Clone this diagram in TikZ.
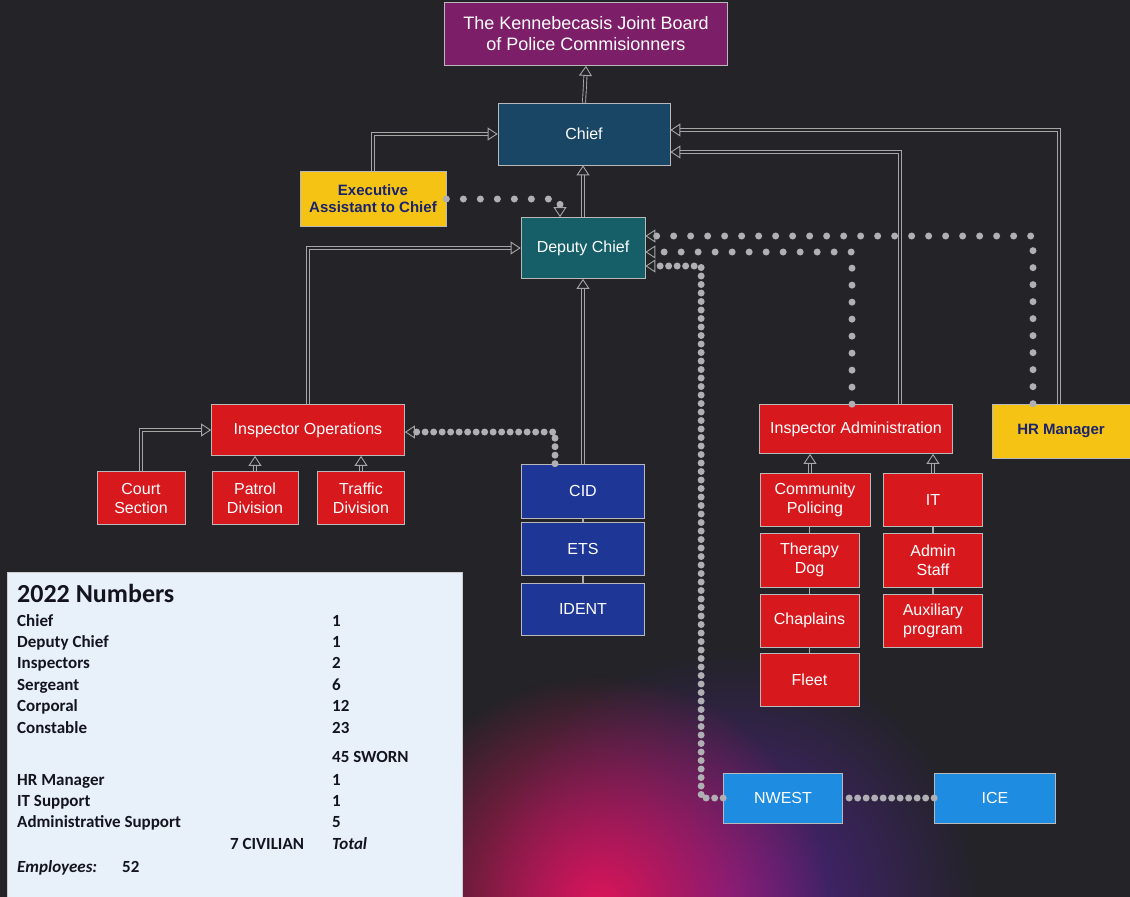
\documentclass[tikz,border=0pt]{standalone}
\usepackage{fontspec}
\setmainfont{Liberation Sans}
\newfontfamily\tblfont{Carlito}
\usetikzlibrary{positioning, arrows.meta, calc, fadings}

\definecolor{bgc}{RGB}{35,35,40}
\definecolor{boardc}{RGB}{125,30,105}
\definecolor{chiefc}{RGB}{25,70,100}
\definecolor{deputyc}{RGB}{22,95,105}
\definecolor{redc}{RGB}{215,25,30}
\definecolor{navyc}{RGB}{30,55,150}
\definecolor{skyc}{RGB}{30,140,225}
\definecolor{yellowc}{RGB}{245,195,20}
\definecolor{inkc}{RGB}{25,35,110}
\definecolor{tblc}{RGB}{232,240,250}
\definecolor{tblink}{RGB}{20,20,30}
\definecolor{dotc}{RGB}{175,175,180}
\definecolor{glowp}{RGB}{80,35,140}
\definecolor{glowm}{RGB}{220,20,90}
\tikzfading[name=glowfade, inner color=transparent!0, outer color=transparent!100]

\tikzset{
  Unit/.style={draw=gray!55, line width=0.7pt, text=white, align=center,
    font=\fontsize{16}{19}\selectfont, inner sep=1pt},
  RedUnit/.style={Unit, fill=redc},
  BlueUnit/.style={Unit, fill=navyc},
  SkyUnit/.style={Unit, fill=skyc},
  GoldUnit/.style={Unit, fill=yellowc, text=inkc, font=\fontsize{15}{17}\selectfont\bfseries},
  Link/.style={draw=gray!70, double=bgc, double distance=2.2pt, line width=0.9pt,
    -{Triangle[open, length=10pt, width=13pt, line width=0.9pt]}},
  Tie/.style={draw=gray!65, line width=1.5pt},
  Dots/.style={draw=dotc, line width=7pt, line cap=round, dash pattern=on 0pt off 17pt,
    -{Triangle[open, length=10pt, width=13pt, line width=0.9pt, color=gray!70]}},
  DenseDots/.style={Dots, dash pattern=on 0pt off 8.5pt},
  Cell/.style={anchor=base west, inner sep=0pt, text=tblink,
    font=\tblfont\fontsize{17}{19}\selectfont\bfseries}
}

\begin{document}
\begin{tikzpicture}[x=1pt, y=-1pt]
    \useasboundingbox (0,0) rectangle (1130,897);
    \fill[bgc] (0,0) rectangle (1130,897);
    \begin{scope}
    \clip (0,0) rectangle (1130,897);
    \fill[glowp, path fading=glowfade] (730,900) circle (250pt);
    \fill[glowm, path fading=glowfade] (600,905) circle (230pt);
    \end{scope}

    % command
    \node (board) [Unit, fill=boardc, minimum width=283pt, minimum height=63pt,
        font=\fontsize{18}{21}\selectfont] at (586,34)
        {The Kennebecasis Joint Board\\of Police Commisionners};
    \node (chief) [Unit, fill=chiefc, minimum width=172pt, minimum height=62pt] at (584,134) {Chief};
    \node (exec) [GoldUnit, minimum width=146pt, minimum height=55pt] at (373,199) {Executive\\Assistant to Chief};
    \node (deputy) [Unit, fill=deputyc, minimum width=124pt, minimum height=61pt] at (583,248) {Deputy Chief};
    \node (hr) [GoldUnit, minimum width=138pt, minimum height=54pt] at (1061,431) {HR Manager};

    % operations side
    \node (insops) [RedUnit, minimum width=193pt, minimum height=51pt] at (308,430) {Inspector Operations};
    \node (court) [RedUnit, minimum width=88pt, minimum height=53pt] at (141,498) {Court\\Section};
    \node (patrol) [RedUnit, minimum width=86pt, minimum height=53pt] at (255,498) {Patrol\\Division};
    \node (traffic) [RedUnit, minimum width=87pt, minimum height=53pt] at (361,498) {Traffic\\Division};
    \node (cid) [BlueUnit, minimum width=123pt, minimum height=54pt] at (583,491) {CID};
    \node (ets) [BlueUnit, minimum width=123pt, minimum height=53pt, below=4pt of cid] {ETS};
    \node (ident) [BlueUnit, minimum width=123pt, minimum height=52pt, below=7pt of ets] {IDENT};

    % administration side
    \node (insadm) [RedUnit, minimum width=193pt, minimum height=49pt] at (856,429) {Inspector Administration};
    \node (commpol) [RedUnit, minimum width=110pt, minimum height=53pt] at (815,500) {Community\\Policing};
    \node (therapy) [RedUnit, minimum width=99pt, minimum height=54pt,
        below right=6pt and 0pt of commpol.south west] {Therapy\\Dog};
    \node (chaplains) [RedUnit, minimum width=99pt, minimum height=53pt,
        below=6pt of therapy] {Chaplains};
    \node (fleet) [RedUnit, minimum width=99pt, minimum height=53pt,
        below=6pt of chaplains] {Fleet};
    \node (it) [RedUnit, minimum width=99pt, minimum height=53pt] at (933,500) {IT};
    \node (admin) [RedUnit, minimum width=99pt, minimum height=54pt, below=6pt of it] {Admin\\Staff};
    \node (aux) [RedUnit, minimum width=99pt, minimum height=53pt, below=6pt of admin] {Auxiliary\\program};

    % joint units
    \node (nwest) [SkyUnit, minimum width=119pt, minimum height=50pt] at (783,798) {NWEST};
    \node (ice) [SkyUnit, minimum width=121pt, minimum height=50pt] at (995,798) {ICE};

    % reporting lines
    \draw[Link] (chief.north) -- (board.south);
    \draw[Link] (exec.north) |- (chief.west);
    \draw[Link] (deputy.north) -- (deputy.north |- chief.south);
    \draw[Link] ([xshift=44pt]insadm.north) |- ([yshift=-18pt]chief.east);
    \draw[Link] ([xshift=-2pt]hr.north) |- ([yshift=4pt]chief.east);
    \draw[Link] (insops.north) |- (deputy.west);
    \draw[Link] (cid.north) -- (cid.north |- deputy.south);
    \draw[Link] (court.north) |- (insops.west);
    \draw[Link] (patrol.north) -- (patrol.north |- insops.south);
    \draw[Link] (traffic.north) -- (traffic.north |- insops.south);
    \draw[Link] ([xshift=-5pt]commpol.north) -- ([xshift=-5pt]commpol.north |- insadm.south);
    \draw[Link] (it.north) -- (it.north |- insadm.south);
    \draw[Tie] (ets.north) -- (cid.south);
    \draw[Tie] (ident.north) -- (ets.south);
    \draw[Tie] (therapy.north) -- (therapy.north |- commpol.south);
    \draw[Tie] (chaplains.north) -- (therapy.south);
    \draw[Tie] (fleet.north) -- (chaplains.south);
    \draw[Tie] (admin.north) -- (it.south);
    \draw[Tie] (aux.north) -- (admin.south);

    % dotted lines
    \draw[Dots] (exec.east) -| ([xshift=-23pt]deputy.north);
    \draw[Dots] ([xshift=-28pt]hr.north) |- ([yshift=12pt]deputy.east);
    \draw[Dots] ([xshift=-4pt]insadm.north) |- ([yshift=-4pt]deputy.east);
    \draw[DenseDots] (nwest.west) -- ++(-22,0) |- ([yshift=-18pt]deputy.east);
    \draw[DenseDots] ([xshift=-28pt]cid.north) |- ([yshift=-2pt]insops.east);
    \draw[DenseDots, -] (ice.west) -- (nwest.east);

    % numbers
    \node (tbl) [draw=gray!40, fill=tblc, minimum width=455pt, minimum height=325pt,
        anchor=north west] at (7,572) {};
    \node (title) [Cell, font=\tblfont\fontsize{26}{28}\selectfont\bfseries] at (17,602) {2022 Numbers};
    \node (r1) [Cell] at (17,626) {Chief};
    \node (n1) [Cell] at (332,626) {1};
    \node (r2) [Cell] at (17,647) {Deputy Chief};
    \node (n2) [Cell] at (332,647) {1};
    \node (r3) [Cell] at (17,668) {Inspectors};
    \node (n3) [Cell] at (332,668) {2};
    \node (r4) [Cell] at (17,690) {Sergeant};
    \node (n4) [Cell] at (332,690) {6};
    \node (r5) [Cell] at (17,711) {Corporal};
    \node (n5) [Cell] at (332,711) {12};
    \node (r6) [Cell] at (17,733) {Constable};
    \node (n6) [Cell] at (332,733) {23};
    \node (sworn) [Cell] at (332,762) {45 SWORN};
    \node (r7) [Cell] at (17,785) {HR Manager};
    \node (n7) [Cell] at (332,785) {1};
    \node (r8) [Cell] at (17,806) {IT Support};
    \node (n8) [Cell] at (332,806) {1};
    \node (r9) [Cell] at (17,827) {Administrative Support};
    \node (n9) [Cell] at (332,827) {5};
    \node (civ) [Cell] at (230,849) {7 CIVILIAN};
    \node (total) [Cell, font=\tblfont\fontsize{17}{19}\selectfont\bfseries\itshape] at (332,849) {Total};
    \node (emp) [Cell, font=\tblfont\fontsize{17}{19}\selectfont\bfseries\itshape] at (17,872) {Employees:};
    \node (empn) [Cell] at (122,872) {52};
\end{tikzpicture}
\end{document}
